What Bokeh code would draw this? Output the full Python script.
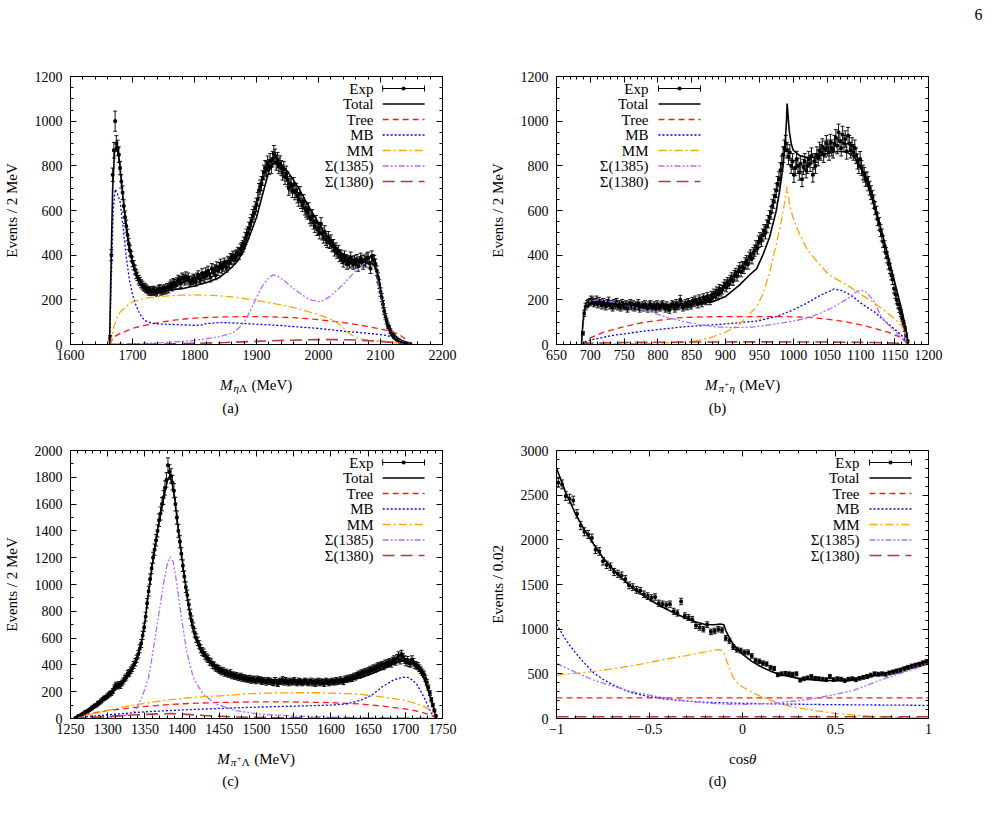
import numpy as np
from bokeh.plotting import figure
from bokeh.models import FixedTicker, LinearAxis, Range1d, Label
from bokeh.layouts import column, row
from bokeh.embed import file_html
from bokeh.resources import INLINE
from bokeh.core.properties import value

SERIF = "Liberation Serif"

# ---------------------------------------------------------------------------
# (a) eta-Lambda invariant mass, 2 MeV bins starting at 1664 MeV
# ---------------------------------------------------------------------------
A_START, A_STEP = 1664, 2
A_COUNTS = [
    30, 400, 760, 870, 1000, 900, 880, 850, 790, 730,
    680, 620, 570, 530, 490, 450, 420, 395, 370, 355,
    335, 315, 305, 290, 282, 272, 266, 258, 255, 250,
    245, 238, 242, 236, 240, 244, 237, 240, 232, 246,
    250, 238, 245, 242, 250, 244, 255, 248, 262, 270,
    258, 276, 272, 265, 280, 290, 285, 275, 300, 295,
    285, 305, 290, 300, 285, 278, 288, 295, 292, 280,
    300, 310, 296, 290, 318, 305, 300, 322, 310, 330,
    315, 300, 340, 325, 335, 310, 348, 330, 345, 360,
    340, 350, 365, 355, 345, 372, 365, 385, 380, 395,
    385, 395, 400, 410, 405, 425, 430, 440, 455, 475,
    490, 500, 520, 540, 555, 575, 590, 610, 625, 650,
    690, 705, 720, 745, 770, 790, 785, 810, 795, 820,
    800, 830, 855, 840, 815, 825, 800, 810, 790, 770,
    785, 750, 765, 740, 700, 720, 710, 690, 715, 680,
    690, 665, 650, 675, 640, 625, 640, 610, 600, 590,
    605, 570, 560, 575, 545, 530, 550, 515, 520, 500,
    540, 495, 480, 505, 470, 460, 480, 455, 465, 440,
    445, 420, 430, 410, 420, 395, 400, 385, 370, 395,
    380, 360, 375, 365, 390, 370, 360, 375, 365, 380,
    350, 370, 385, 375, 360, 378, 370, 385, 390, 365,
    340, 395, 380, 375, 360, 330, 300, 270, 235, 210,
    180, 150, 125, 105, 85, 75, 60, 50, 45, 35,
    30, 25, 20, 18, 14, 12, 10, 8, 6, 5,
    4, 3, 2,
]
A_ERRORS = [
    10, 25, 30, 35, 45, 35, 35, 35, 30, 30,
    30, 28, 28, 27, 26, 25, 24, 22, 22, 21,
    20, 20, 19, 19, 18, 18, 18, 17, 17, 17,
    17, 17, 17, 17, 17, 17, 17, 17, 17, 17,
    18, 17, 18, 17, 18, 17, 18, 17, 18, 19,
    18, 19, 19, 18, 19, 20, 19, 19, 20, 20,
    19, 20, 19, 20, 19, 19, 19, 20, 20, 19,
    20, 20, 20, 19, 21, 20, 20, 21, 20, 21,
    20, 20, 22, 21, 22, 20, 22, 21, 22, 22,
    21, 22, 22, 22, 21, 23, 22, 23, 23, 23,
    24, 24, 24, 25, 25, 25, 26, 26, 26, 27,
    27, 27, 28, 28, 28, 29, 29, 30, 30, 31,
    31, 32, 32, 33, 33, 34, 34, 34, 34, 35,
    35, 35, 36, 35, 35, 35, 35, 35, 34, 34,
    34, 33, 34, 33, 32, 33, 32, 32, 33, 32,
    32, 31, 31, 32, 31, 30, 31, 30, 30, 29,
    30, 29, 29, 29, 28, 28, 28, 27, 27, 27,
    28, 27, 26, 27, 26, 26, 26, 25, 26, 25,
    25, 24, 25, 24, 24, 24, 24, 23, 23, 24,
    23, 23, 23, 23, 24, 23, 23, 23, 23, 23,
    22, 23, 24, 23, 23, 23, 23, 24, 24, 23,
    22, 24, 23, 23, 23, 22, 21, 20, 19, 18,
    17, 15, 14, 13, 12, 11, 10, 9, 9, 8,
    7, 7, 6, 6, 5, 5, 4, 4, 3, 3,
    3, 2, 2,
]
A_TOTAL = [(1663, 0), (1665, 300), (1668, 700), (1671, 860), (1674, 890), (1677, 865),
           (1680, 790), (1685, 650), (1690, 525), (1695, 430), (1700, 370), (1705, 325),
           (1710, 295), (1715, 275), (1720, 260), (1730, 246), (1740, 241), (1750, 241),
           (1760, 244), (1780, 250), (1800, 263), (1820, 278), (1840, 300), (1850, 322),
           (1860, 345), (1870, 375), (1880, 425), (1890, 495), (1900, 569), (1910, 674),
           (1920, 777), (1925, 805), (1930, 818), (1935, 815), (1940, 805), (1950, 775),
           (1960, 735), (1970, 690), (1980, 640), (1990, 590), (2000, 545), (2010, 500),
           (2020, 462), (2030, 430), (2040, 402), (2050, 385), (2060, 375), (2070, 370),
           (2080, 368), (2085, 365), (2090, 355), (2095, 320), (2100, 250), (2105, 170),
           (2110, 100), (2115, 60), (2120, 35), (2130, 15), (2140, 5), (2148, 0)]
A_TREE = [(1664, 0), (1668, 30), (1680, 50), (1700, 72), (1720, 86), (1740, 97), (1760, 106),
          (1780, 113), (1800, 118), (1820, 121), (1840, 123), (1860, 124), (1880, 125),
          (1900, 125), (1920, 124), (1940, 122), (1960, 120), (1980, 116), (2000, 111),
          (2020, 105), (2040, 98), (2060, 90), (2080, 80), (2100, 70), (2120, 55), (2130, 45),
          (2140, 25), (2148, 0)]
A_MB = [(1663, 0), (1666, 300), (1669, 600), (1672, 695), (1675, 680), (1680, 640), (1685, 520),
        (1690, 390), (1695, 290), (1700, 225), (1705, 180), (1710, 148), (1715, 122),
        (1720, 107), (1730, 96), (1740, 92), (1760, 90), (1780, 88), (1800, 86), (1810, 87),
        (1820, 94), (1840, 98), (1860, 97), (1880, 94), (1900, 91), (1920, 88), (1940, 85),
        (1960, 80), (1980, 76), (2000, 72), (2020, 66), (2040, 60), (2060, 55), (2080, 50),
        (2100, 44), (2110, 40), (2120, 32), (2130, 22), (2140, 10), (2148, 0)]
A_MM = [(1664, 0), (1667, 40), (1670, 80), (1675, 120), (1680, 145), (1690, 172), (1700, 190),
        (1720, 207), (1740, 214), (1760, 218), (1780, 221), (1800, 222), (1820, 221),
        (1840, 218), (1860, 213), (1880, 206), (1900, 197), (1920, 188), (1940, 177),
        (1960, 165), (1980, 150), (2000, 133), (2020, 113), (2030, 98), (2040, 75), (2050, 48),
        (2060, 32), (2070, 24), (2080, 19), (2100, 14), (2120, 9), (2140, 4), (2148, 0)]
A_S1385 = [(1664, 0), (1700, 3), (1750, 8), (1800, 18), (1840, 35), (1860, 50), (1870, 70),
           (1880, 100), (1890, 150), (1900, 210), (1910, 265), (1920, 300), (1927, 312),
           (1935, 305), (1945, 285), (1960, 250), (1980, 210), (1990, 198), (2000, 193),
           (2010, 200), (2020, 218), (2040, 270), (2060, 330), (2075, 365), (2082, 370),
           (2090, 350), (2095, 300), (2100, 230), (2105, 160), (2110, 100), (2115, 60),
           (2120, 38), (2130, 18), (2140, 6), (2148, 0)]
A_S1380 = [(1664, 0), (1750, 2), (1800, 5), (1850, 9), (1900, 14), (1950, 19), (2000, 22),
           (2030, 22), (2060, 20), (2100, 14), (2130, 7), (2148, 0)]

# ---------------------------------------------------------------------------
# (b) pi+ eta invariant mass, 2 MeV bins starting at 689 MeV
# ---------------------------------------------------------------------------
B_START, B_STEP = 689, 2
B_COUNTS = [
    50, 140, 170, 180, 185, 190, 200, 195, 185, 190,
    200, 180, 195, 185, 175, 190, 180, 170, 185, 195,
    175, 180, 165, 185, 175, 190, 170, 180, 165, 185,
    175, 170, 180, 160, 175, 185, 170, 180, 165, 175,
    170, 185, 160, 170, 175, 165, 180, 170, 160, 175,
    180, 165, 170, 175, 160, 180, 170, 165, 175, 180,
    170, 160, 175, 165, 155, 170, 180, 175, 160, 185,
    170, 175, 200, 180, 165, 175, 185, 170, 190, 180,
    175, 195, 185, 200, 190, 180, 205, 195, 185, 210,
    200, 195, 215, 205, 195, 220, 210, 230, 215, 240,
    225, 250, 235, 245, 260, 270, 255, 280, 270, 290,
    300, 285, 310, 320, 305, 330, 345, 325, 350, 340,
    365, 375, 360, 390, 400, 385, 410, 420, 440, 430,
    460, 475, 465, 490, 510, 500, 530, 550, 570, 590,
    620, 640, 665, 690, 720, 740, 780, 810, 850, 880,
    900, 870, 840, 860, 800, 820, 760, 790, 830, 800,
    770, 810, 740, 795, 820, 780, 800, 830, 810, 845,
    760, 820, 800, 850, 835, 870, 860, 885, 850, 875,
    900, 880, 860, 905, 880, 870, 900, 925, 890, 950,
    910, 880, 940, 900, 920, 865, 935, 900, 870, 890,
    860, 880, 845, 820, 800, 830, 790, 770, 760, 740,
    740, 720, 700, 680, 660, 640, 610, 590, 560, 540,
    510, 490, 460, 440, 410, 390, 360, 340, 310, 290,
    250, 225, 200, 180, 160, 140, 118, 95, 70, 42,
    15,
]
B_ERRORS = [
    8, 14, 15, 16, 16, 16, 17, 17, 16, 16,
    17, 16, 16, 16, 16, 16, 16, 15, 16, 17,
    16, 16, 15, 16, 16, 16, 15, 16, 15, 16,
    16, 15, 16, 15, 16, 16, 15, 16, 15, 16,
    15, 16, 15, 15, 16, 15, 16, 15, 15, 16,
    16, 15, 15, 16, 15, 16, 15, 15, 16, 16,
    15, 15, 16, 15, 15, 15, 16, 16, 15, 16,
    15, 16, 20, 16, 15, 16, 16, 15, 16, 16,
    16, 16, 16, 17, 16, 16, 17, 17, 16, 17,
    17, 17, 17, 17, 17, 18, 17, 18, 18, 18,
    18, 19, 18, 19, 19, 20, 19, 20, 20, 20,
    21, 20, 21, 21, 21, 22, 22, 22, 22, 22,
    23, 23, 23, 24, 24, 24, 24, 25, 25, 25,
    26, 26, 26, 27, 27, 27, 28, 28, 29, 29,
    30, 30, 31, 32, 32, 33, 34, 34, 35, 35,
    36, 35, 35, 35, 34, 35, 34, 34, 35, 34,
    34, 35, 33, 34, 35, 34, 34, 35, 35, 35,
    33, 35, 34, 35, 35, 36, 35, 36, 35, 36,
    36, 36, 35, 36, 36, 35, 36, 37, 36, 37,
    36, 36, 37, 36, 37, 35, 37, 36, 35, 36,
    35, 36, 35, 34, 34, 34, 33, 33, 33, 32,
    32, 32, 31, 31, 30, 30, 29, 29, 28, 28,
    27, 27, 26, 25, 24, 24, 23, 22, 21, 21,
    20, 19, 18, 17, 16, 15, 14, 12, 11, 9,
    6,
]
B_TOTAL = [(687, 0), (689, 100), (692, 160), (695, 175), (700, 182), (710, 185), (720, 184),
           (740, 180), (760, 176), (780, 174), (800, 174), (820, 177), (840, 180), (860, 184),
           (880, 190), (900, 215), (920, 265), (935, 310), (946, 340), (955, 400), (965, 480),
           (975, 600), (980, 690), (985, 800), (988, 900), (990, 1000), (991, 1079),
           (992, 1040), (994, 960), (997, 900), (1000, 870), (1010, 845), (1020, 838),
           (1030, 838), (1040, 845), (1050, 855), (1060, 862), (1070, 865), (1080, 860),
           (1090, 840), (1100, 795), (1110, 720), (1120, 625), (1130, 515), (1140, 400),
           (1150, 280), (1160, 160), (1166, 80), (1170, 0)]
B_TREE = [(687, 0), (700, 30), (720, 55), (750, 80), (780, 100), (800, 108), (833, 120),
          (870, 124), (900, 125), (950, 125), (980, 125), (1000, 124), (1030, 120), (1060, 110),
          (1080, 100), (1100, 88), (1120, 72), (1140, 55), (1160, 30), (1170, 0)]
B_MB = [(687, 0), (700, 20), (735, 42), (780, 60), (833, 78), (900, 92), (946, 105), (975, 125),
        (1000, 155), (1020, 185), (1040, 220), (1060, 248), (1070, 243), (1080, 230),
        (1090, 210), (1100, 185), (1110, 165), (1120, 146), (1130, 120), (1140, 94),
        (1150, 68), (1160, 42), (1166, 20), (1170, 0)]
B_MM = [(687, 0), (750, 3), (800, 6), (850, 12), (880, 33), (900, 55), (920, 90), (935, 135),
        (946, 170), (955, 225), (965, 320), (975, 450), (983, 560), (988, 650), (991, 706),
        (993, 660), (996, 610), (1000, 565), (1010, 490), (1020, 430), (1030, 390),
        (1040, 355), (1050, 320), (1060, 300), (1080, 265), (1100, 225), (1120, 185),
        (1140, 140), (1150, 115), (1160, 85), (1166, 50), (1170, 0)]
B_S1385 = [(687, 0), (690, 100), (694, 175), (700, 195), (710, 200), (720, 197), (735, 190),
           (760, 170), (785, 150), (810, 125), (835, 105), (860, 90), (882, 80), (910, 76),
           (940, 78), (970, 90), (1000, 105), (1020, 118), (1040, 140), (1060, 168),
           (1080, 205), (1095, 240), (1102, 242), (1110, 230), (1120, 190), (1130, 125),
           (1140, 90), (1153, 50), (1165, 15), (1170, 0)]
B_S1380 = [(687, 0), (695, 6), (750, 9), (850, 11), (950, 12), (1050, 11), (1120, 9),
           (1160, 5), (1170, 0)]

# ---------------------------------------------------------------------------
# (c) pi+ Lambda invariant mass, 2 MeV bins starting at 1257 MeV
# ---------------------------------------------------------------------------
C_START, C_STEP = 1257, 2
C_COUNTS = [
    5, 10, 20, 22, 30, 35, 45, 50, 55, 62,
    70, 80, 88, 95, 100, 112, 120, 130, 140, 150,
    155, 165, 175, 185, 190, 205, 230, 250, 240, 255,
    245, 265, 280, 300, 310, 335, 340, 360, 375, 400,
    420, 445, 480, 520, 560, 620, 680, 760, 860, 950,
    1040, 1120, 1200, 1260, 1330, 1400, 1480, 1530, 1600, 1650,
    1720, 1780, 1890, 1840, 1810, 1760, 1700, 1600, 1500, 1400,
    1320, 1230, 1140, 1060, 980, 920, 850, 780, 730, 680,
    640, 600, 575, 550, 520, 500, 490, 470, 455, 445,
    425, 420, 400, 395, 380, 375, 370, 360, 350, 355,
    340, 345, 335, 330, 340, 320, 325, 315, 320, 310,
    305, 315, 300, 305, 295, 300, 290, 300, 285, 295,
    290, 280, 295, 285, 290, 275, 285, 280, 270, 285,
    275, 280, 270, 265, 285, 270, 260, 280, 275, 290,
    270, 285, 275, 265, 280, 270, 275, 285, 270, 265,
    280, 275, 265, 270, 280, 275, 265, 270, 280, 265,
    275, 260, 270, 280, 265, 275, 270, 260, 280, 275,
    265, 270, 280, 275, 270, 285, 275, 280, 290, 280,
    275, 295, 290, 300, 295, 305, 300, 315, 310, 320,
    330, 325, 340, 335, 345, 350, 345, 355, 365, 360,
    375, 370, 380, 390, 385, 395, 400, 390, 410, 405,
    415, 420, 410, 430, 440, 425, 450, 470, 435, 480,
    455, 440, 420, 435, 415, 410, 440, 420, 400, 395,
    390, 375, 360, 345, 330, 300, 270, 230, 190, 140,
    100, 60, 20,
]
C_ERRORS = [
    3, 4, 6, 6, 7, 8, 9, 9, 10, 10,
    11, 12, 12, 13, 13, 14, 14, 15, 16, 16,
    16, 17, 17, 18, 18, 19, 20, 21, 20, 21,
    21, 21, 22, 23, 23, 24, 24, 25, 25, 26,
    27, 27, 28, 30, 30, 31, 32, 33, 35, 36,
    38, 39, 41, 42, 43, 45, 47, 49, 50, 52,
    53, 54, 55, 55, 54, 54, 53, 51, 50, 48,
    47, 45, 43, 42, 40, 39, 37, 36, 35, 34,
    33, 32, 31, 30, 30, 29, 29, 28, 27, 27,
    27, 26, 26, 26, 25, 25, 25, 24, 24, 24,
    24, 24, 23, 23, 24, 23, 23, 23, 23, 23,
    23, 23, 22, 23, 22, 22, 22, 22, 22, 22,
    22, 21, 22, 21, 22, 21, 21, 21, 21, 21,
    21, 21, 21, 21, 21, 21, 21, 21, 21, 22,
    21, 21, 21, 21, 21, 21, 21, 21, 21, 21,
    21, 21, 21, 21, 21, 21, 21, 21, 21, 21,
    21, 21, 21, 21, 21, 21, 21, 21, 21, 21,
    21, 21, 21, 21, 21, 21, 21, 21, 22, 21,
    22, 22, 22, 23, 22, 23, 23, 23, 23, 23,
    24, 24, 24, 24, 24, 25, 24, 25, 25, 25,
    25, 25, 26, 26, 26, 26, 26, 26, 27, 26,
    27, 27, 27, 27, 28, 27, 28, 28, 28, 29,
    28, 28, 27, 28, 27, 27, 28, 27, 26, 26,
    26, 25, 25, 24, 24, 23, 22, 20, 18, 16,
    13, 10, 6,
]
C_TOTAL = [(1255, 0), (1260, 15), (1270, 45), (1280, 85), (1290, 128), (1300, 170), (1310, 215),
           (1320, 265), (1330, 330), (1336, 400), (1340, 460), (1345, 555), (1350, 720),
           (1354, 904), (1360, 1150), (1367, 1402), (1372, 1560), (1377, 1700), (1381, 1790),
           (1383, 1805), (1386, 1775), (1390, 1650), (1394, 1450), (1398, 1278), (1402, 1100),
           (1407, 904), (1411, 760), (1416, 630), (1420, 570), (1425, 505), (1433, 450),
           (1443, 406), (1455, 355), (1470, 320), (1480, 305), (1500, 290), (1520, 280),
           (1540, 274), (1560, 270), (1580, 270), (1600, 270), (1620, 280), (1640, 305),
           (1660, 345), (1680, 395), (1690, 420), (1698, 432), (1705, 425), (1712, 400),
           (1720, 350), (1725, 300), (1730, 220), (1735, 140), (1740, 40), (1742, 0)]
C_TREE = [(1255, 0), (1270, 30), (1300, 60), (1350, 90), (1400, 110), (1450, 120), (1500, 124),
          (1550, 124), (1600, 118), (1640, 108), (1670, 92), (1700, 72), (1720, 50), (1735, 25),
          (1742, 0)]
C_MB = [(1255, 0), (1270, 12), (1300, 28), (1350, 50), (1400, 64), (1450, 75), (1500, 85),
        (1550, 92), (1600, 100), (1620, 108), (1640, 135), (1655, 175), (1670, 240), (1685, 290),
        (1698, 308), (1705, 305), (1715, 260), (1725, 160), (1735, 40), (1742, 0)]
C_MM = [(1255, 0), (1265, 10), (1280, 35), (1300, 60), (1320, 85), (1340, 105), (1360, 122),
        (1380, 138), (1400, 150), (1430, 163), (1460, 172), (1490, 185), (1520, 190),
        (1550, 192), (1580, 192), (1610, 188), (1640, 180), (1670, 160), (1700, 135),
        (1720, 100), (1730, 75), (1738, 40), (1742, 0)]
C_S1385 = [(1255, 0), (1300, 8), (1320, 20), (1330, 35), (1337, 58), (1346, 157), (1355, 306),
           (1361, 506), (1368, 755), (1375, 1004), (1380, 1150), (1384, 1205), (1388, 1170),
           (1393, 1004), (1399, 755), (1406, 506), (1415, 306), (1428, 182), (1446, 107),
           (1473, 58), (1504, 33), (1550, 18), (1600, 10), (1650, 5), (1700, 2), (1742, 0)]
C_S1380 = [(1255, 0), (1300, 15), (1340, 28), (1370, 35), (1385, 37), (1400, 33), (1430, 22),
           (1470, 12), (1520, 6), (1600, 3), (1700, 1), (1742, 0)]

# ---------------------------------------------------------------------------
# (d) cos(theta) distribution, bins of 0.02 centred from -0.99
# ---------------------------------------------------------------------------
D_START, D_STEP = -0.99, 0.02
D_COUNTS = [
    2640, 2620, 2490, 2460, 2440, 2290, 2160, 2090, 2060, 2020,
    1890, 1870, 1760, 1720, 1700, 1640, 1620, 1600, 1560, 1490,
    1470, 1440, 1430, 1390, 1370, 1350, 1360, 1290, 1280, 1270,
    1280, 1200, 1180, 1310, 1150, 1130, 1110, 1040, 1020, 1000,
    1050, 970, 980, 1000, 990, 900, 870, 800, 770, 760,
    740, 740, 700, 650, 640, 620, 610, 570, 560, 490,
    500, 505, 500, 495, 500, 430, 445, 455, 470, 450,
    445, 440, 435, 470, 435, 445, 440, 425, 440, 445,
    435, 450, 460, 470, 485, 500, 495, 500, 495, 510,
    520, 530, 540, 555, 570, 585, 595, 605, 620, 635,
]
D_ERRORS = [
    50, 50, 49, 49, 49, 47, 46, 45, 45, 44,
    43, 43, 42, 41, 41, 40, 40, 40, 39, 38,
    38, 38, 37, 37, 37, 36, 36, 35, 35, 35,
    35, 34, 34, 36, 33, 33, 33, 32, 32, 31,
    32, 31, 31, 31, 31, 30, 29, 28, 27, 27,
    27, 27, 26, 25, 25, 25, 24, 24, 23, 22,
    22, 22, 22, 22, 22, 21, 21, 21, 21, 21,
    21, 21, 21, 22, 21, 21, 21, 20, 21, 21,
    21, 21, 21, 22, 22, 22, 22, 22, 22, 22,
    23, 23, 23, 23, 24, 24, 24, 24, 25, 25,
]
D_TOTAL = [(-1, 2800), (-0.95, 2530), (-0.9, 2300), (-0.85, 2110), (-0.8, 1950), (-0.75, 1800),
           (-0.7, 1680), (-0.65, 1570), (-0.6, 1480), (-0.55, 1400), (-0.5, 1330),
           (-0.45, 1270), (-0.4, 1215), (-0.35, 1165), (-0.3, 1120), (-0.25, 1080),
           (-0.2, 1052), (-0.15, 1050), (-0.12, 1058), (-0.1, 1050), (-0.09, 985),
           (-0.07, 900), (-0.05, 835), (-0.02, 760), (0, 720), (0.05, 640), (0.1, 580),
           (0.15, 530), (0.2, 494), (0.3, 449), (0.4, 428), (0.5, 424), (0.56, 426),
           (0.65, 455), (0.74, 494), (0.8, 525), (0.9, 590), (1, 650)]
D_TREE = [(-1, 230), (1, 230)]
D_MB = [(-1, 1055), (-0.95, 880), (-0.9, 740), (-0.85, 620), (-0.8, 510), (-0.75, 440),
        (-0.7, 380), (-0.6, 290), (-0.5, 245), (-0.4, 215), (-0.3, 195), (-0.2, 182),
        (-0.1, 175), (0, 170), (0.2, 163), (0.4, 157), (0.6, 153), (0.8, 150), (1, 147)]
D_MM = [(-1, 486), (-0.9, 505), (-0.8, 527), (-0.7, 555), (-0.6, 588), (-0.5, 628), (-0.4, 668),
        (-0.3, 705), (-0.2, 745), (-0.15, 768), (-0.12, 772), (-0.1, 740), (-0.085, 650),
        (-0.07, 560), (-0.05, 460), (-0.02, 380), (0.02, 330), (0.06, 285), (0.11, 235),
        (0.2, 165), (0.3, 118), (0.4, 85), (0.5, 58), (0.6, 38), (0.7, 23), (0.8, 13),
        (0.9, 7), (1, 4)]
D_S1385 = [(-1, 617), (-0.9, 520), (-0.8, 430), (-0.7, 363), (-0.6, 305), (-0.5, 262),
           (-0.4, 225), (-0.3, 195), (-0.2, 175), (-0.1, 162), (0, 157), (0.1, 163),
           (0.2, 178), (0.3, 200), (0.4, 230), (0.5, 270), (0.6, 318), (0.7, 395),
           (0.74, 430), (0.8, 470), (0.9, 540), (1, 610)]
D_S1380 = [(-1, 20), (1, 20)]

# Fit components: legend label, colour, dash pattern, width
COMPONENT_STYLES = [
    ("Tree", "#ff1a1a", "6 4", 1.3),
    ("MB", "#0000ff", "2 2", 1.3),
    ("MM", "#ffa500", "8 3 2 3", 1.3),
    ("\u03a3(1385)", "#b36bff", "6 2 2 2 2 2", 1.3),
    ("\u03a3(1380)", "#b23a3a", "12 6", 1.6),
]
LEGEND_ROWS = [12, 27.5, 43, 58.5, 74, 89.5, 105]   # px below the frame top


def style_axis(ax, ticker, labels=True, standoff=6, overrides=None):
    ax.ticker = ticker
    ax.major_tick_in = 6
    ax.major_tick_out = 0
    ax.minor_tick_in = 3
    ax.minor_tick_out = 0
    ax.axis_line_color = "black"
    ax.major_tick_line_color = "black"
    ax.minor_tick_line_color = "black"
    ax.major_label_text_font = SERIF
    ax.major_label_standoff = standoff
    if labels:
        ax.major_label_text_font_size = "14px"
        ax.major_label_text_color = "black"
    else:
        ax.major_label_text_font_size = "0px"
        ax.major_label_text_color = None
    if overrides:
        ax.major_label_overrides = overrides


def build_panel(cfg):
    fw = cfg["width"] - cfg["left"] - cfg["right"]
    fh = cfg["height"] - cfg["top"] - cfg["bottom"]
    x0, x1 = cfg["xr"]
    y0, y1 = cfg["yr"]
    p = figure(width=cfg["width"], height=cfg["height"],
               x_range=Range1d(x0, x1), y_range=Range1d(y0, y1),
               output_backend="svg", toolbar_location=None,
               min_border_left=cfg["left"], min_border_right=cfg["right"],
               min_border_top=cfg["top"], min_border_bottom=cfg["bottom"],
               background_fill_color="white", border_fill_color="white",
               outline_line_color="black", outline_line_width=1)
    p.xgrid.visible = False
    p.ygrid.visible = False

    xt = FixedTicker(ticks=cfg["xticks"],
                     minor_ticks=list(np.arange(x0, x1 + 1e-9, cfg["xminor"])))
    yt = FixedTicker(ticks=cfg["yticks"],
                     minor_ticks=list(np.arange(y0, y1 + 1e-9, cfg["yminor"])))
    style_axis(p.xaxis[0], xt, True, 5, cfg.get("xoverrides"))
    style_axis(p.yaxis[0], yt, True, 8)
    top = LinearAxis()
    style_axis(top, xt, False)
    p.add_layout(top, "above")
    right = LinearAxis()
    style_axis(right, yt, False)
    p.add_layout(right, "right")

    yax = p.yaxis[0]
    yax.axis_label = cfg["ylabel"]
    yax.axis_label_text_font = SERIF
    yax.axis_label_text_font_size = "15px"
    yax.axis_label_text_font_style = "normal"
    yax.axis_label_text_color = "black"
    yax.axis_label_standoff = 12

    # measured points with statistical error bars
    counts = np.array(cfg["counts"], dtype=float)
    errs = np.array(cfg["errors"], dtype=float)
    n = min(len(counts), len(errs))
    counts, errs = counts[:n], errs[:n]
    xs = cfg["start"] + cfg["step"] * np.arange(n)
    p.segment(x0=xs, y0=counts - errs, x1=xs, y1=counts + errs,
              line_color="#111111", line_width=1)
    p.scatter(xs, counts + errs, marker="dash", size=4, line_color="#111111", line_width=1)
    p.scatter(xs, counts - errs, marker="dash", size=4, line_color="#111111", line_width=1)
    p.scatter(xs, counts, marker="square", size=2.6, fill_color="black", line_color="black")

    # fit components and total
    for pairs, (_, color, dash, width) in zip(cfg["components"], COMPONENT_STYLES):
        cx, cy = zip(*pairs)
        p.line(list(cx), list(cy), line_color=color, line_dash=dash, line_width=width)
    tx, ty = zip(*cfg["total"])
    p.line(list(tx), list(ty), line_color="black", line_width=1.6)

    # legend: text right aligned, line sample on its right
    def fx(dx):
        return x0 + dx * (x1 - x0) / fw

    def fy(dy):
        return y1 - dy * (y1 - y0) / fh

    tr, la, lb = cfg["legend"]
    labels = ["Exp", "Total"] + [c[0] for c in COMPONENT_STYLES]
    for dy, lab in zip(LEGEND_ROWS, labels):
        p.add_layout(Label(x=tr, y=fh - dy, x_units="screen", y_units="screen", text=lab,
                           text_align="right", text_baseline="middle", text_font=SERIF,
                           text_font_size="15px", text_color="black"))
    xa, xb = fx(la), fx(lb)
    ye = fy(LEGEND_ROWS[0])
    cap = 3 * (y1 - y0) / fh
    p.line([xa, xb], [ye, ye], line_color="black", line_width=1)
    p.segment(x0=[xa, xb], y0=[ye - cap, ye - cap], x1=[xa, xb], y1=[ye + cap, ye + cap],
              line_color="black", line_width=1)
    p.scatter([(xa + xb) / 2], [ye], marker="square", size=2.6, fill_color="black",
              line_color="black")
    yt_ = fy(LEGEND_ROWS[1])
    p.line([xa, xb], [yt_, yt_], line_color="black", line_width=1.6)
    for dy, (_, color, dash, width) in zip(LEGEND_ROWS[2:], COMPONENT_STYLES):
        yy = fy(dy)
        p.line([xa, xb], [yy, yy], line_color=color, line_dash=dash, line_width=width)
    return p, fw, fh


def text_strip(height):
    """A blank full-width strip (pixel coordinates, y downwards) for captions."""
    s = figure(width=991, height=height, x_range=Range1d(0, 991), y_range=Range1d(height, 0),
               output_backend="svg", toolbar_location=None, x_axis_type=None, y_axis_type=None,
               min_border=0, min_border_left=0, min_border_right=0, min_border_top=0,
               min_border_bottom=0, outline_line_color=None,
               background_fill_color="white", border_fill_color="white")
    s.xgrid.visible = False
    s.ygrid.visible = False
    return s


def put_text(s, x, y, text, size=15, style="normal", align="left", baseline="alphabetic"):
    s.text(x=[x], y=[y], text=[text], text_font=value(SERIF), text_font_size=f"{size}px",
           text_font_style=style, text_align=align, text_baseline=baseline,
           text_color="black")


def axis_title(s, cx, center_y, pieces):
    """Axis title built from pieces: (text, size, style, baseline shift, advance)."""
    base = center_y + 5
    x = cx - sum(pc[4] for pc in pieces) / 2
    for text, size, style, shift, adv in pieces:
        put_text(s, x, base + shift, text, size, style)
        x += adv


M_IT = ("M", 15, "italic", 0, 13.5)
MEV = ("(MeV)", 15, "normal", 0, 41.0)

# ------------------------------ panels -------------------------------------
panel_a, _, _ = build_panel(dict(
    width=480, height=338, left=69, right=38, top=46, bottom=24,
    xr=(1600, 2200), yr=(0, 1200),
    xticks=[1600, 1700, 1800, 1900, 2000, 2100, 2200], xminor=20,
    yticks=[0, 200, 400, 600, 800, 1000, 1200], yminor=50,
    ylabel="Events / 2 MeV",
    start=A_START, step=A_STEP, counts=A_COUNTS, errors=A_ERRORS,
    total=A_TOTAL, components=[A_TREE, A_MB, A_MM, A_S1385, A_S1380],
    legend=(303, 313, 355)))

panel_b, _, _ = build_panel(dict(
    width=511, height=338, left=76, right=63, top=46, bottom=24,
    xr=(650, 1200), yr=(0, 1200),
    xticks=[650, 700, 750, 800, 850, 900, 950, 1000, 1050, 1100, 1150, 1200], xminor=10,
    yticks=[0, 200, 400, 600, 800, 1000, 1200], yminor=50,
    ylabel="Events / 2 MeV",
    start=B_START, step=B_STEP, counts=B_COUNTS, errors=B_ERRORS,
    total=B_TOTAL, components=[B_TREE, B_MB, B_MM, B_S1385, B_S1380],
    legend=(92, 102, 144)))

panel_c, _, _ = build_panel(dict(
    width=480, height=317, left=69, right=38, top=25, bottom=24,
    xr=(1250, 1750), yr=(0, 2000),
    xticks=[1250, 1300, 1350, 1400, 1450, 1500, 1550, 1600, 1650, 1700, 1750], xminor=10,
    yticks=[0, 200, 400, 600, 800, 1000, 1200, 1400, 1600, 1800, 2000], yminor=100,
    ylabel="Events / 2 MeV",
    start=C_START, step=C_STEP, counts=C_COUNTS, errors=C_ERRORS,
    total=C_TOTAL, components=[C_TREE, C_MB, C_MM, C_S1385, C_S1380],
    legend=(303, 313, 355)))

panel_d, _, _ = build_panel(dict(
    width=511, height=317, left=76, right=63, top=25, bottom=24,
    xr=(-1, 1), yr=(0, 3000),
    xticks=[-1, -0.5, 0, 0.5, 1], xminor=0.1,
    xoverrides={-1: "\u22121", -0.5: "\u22120.5", 0: "0", 0.5: "0.5", 1: "1"},
    yticks=[0, 500, 1000, 1500, 2000, 2500, 3000], yminor=100,
    ylabel="Events / 0.02",
    start=D_START, step=D_STEP, counts=D_COUNTS, errors=D_ERRORS,
    total=D_TOTAL, components=[D_TREE, D_MB, D_MM, D_S1385, D_S1380],
    legend=(303, 313, 355)))

# ------------------------------ text strips --------------------------------
header = text_strip(30)
put_text(header, 978, 14, "6", 16, align="center", baseline="middle")

strip_top = text_strip(57)
axis_title(strip_top, 255.7, 11.3,
           [M_IT, ("\u03b7", 11, "italic", 3.5, 5.5), ("\u039b", 11, "normal", 3.5, 12.5), MEV])
axis_title(strip_top, 742.3, 11.3,
           [M_IT, ("\u03c0", 11, "italic", 3.5, 6.0), ("+", 8, "normal", -0.5, 5.0),
            ("\u03b7", 11, "italic", 3.5, 10.0), MEV])
put_text(strip_top, 230, 39.3, "(a)", align="center", baseline="middle")
put_text(strip_top, 717, 39.3, "(b)", align="center", baseline="middle")

strip_bottom = text_strip(81)
axis_title(strip_bottom, 255.7, 11.3,
           [M_IT, ("\u03c0", 11, "italic", 3.5, 6.0), ("+", 8, "normal", -0.5, 5.0),
            ("\u039b", 11, "normal", 3.5, 12.5), MEV])
axis_title(strip_bottom, 742.3, 11.3,
           [("cos", 15, "normal", 0, 20.0), ("\u03b8", 15, "italic", 0, 7.5)])
put_text(strip_bottom, 230, 38, "(c)", align="center", baseline="middle")
put_text(strip_bottom, 717, 38, "(d)", align="center", baseline="middle")

layout = column(header, row(panel_a, panel_b), strip_top, row(panel_c, panel_d), strip_bottom)
open("out.html", "w").write(file_html(layout, INLINE))
